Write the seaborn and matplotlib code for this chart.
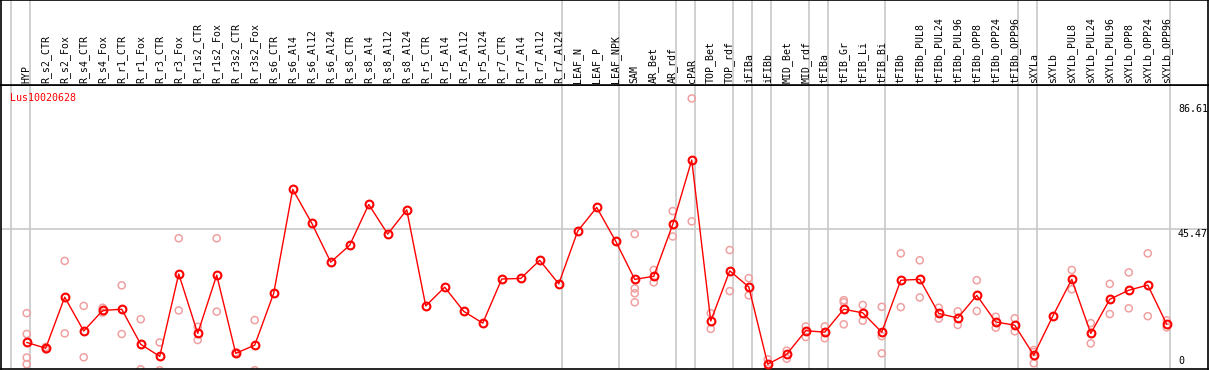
import numpy as np
import pandas as pd
import matplotlib
matplotlib.use("Agg")
import matplotlib.pyplot as plt
import seaborn as sns

# Column labels (samples)
samples = ["HYP", "R_s2_CTR", "R_s2_Fox", "R_s4_CTR", "R_s4_Fox", "R_r1_CTR", "R_r1_Fox",
           "R_r3_CTR", "R_r3_Fox", "R_r1s2_CTR", "R_r1s2_Fox", "R_r3s2_CTR", "R_r3s2_Fox",
           "R_s6_CTR", "R_s6_Al4", "R_s6_Al12", "R_s6_Al24", "R_s8_CTR", "R_s8_Al4", "R_s8_Al12",
           "R_s8_Al24", "R_r5_CTR", "R_r5_Al4", "R_r5_Al12", "R_r5_Al24", "R_r7_CTR", "R_r7_Al4",
           "R_r7_Al12", "R_r7_Al24", "LEAF_N", "LEAF_P", "LEAF_NPK", "SAM", "AR_Bet", "AR_rdf",
           "cPAR", "TOP_Bet", "TOP_rdf", "iFIBa", "iFIBb", "MID_Bet", "MID_rdf", "tFIBa",
           "tFIB_Gr", "tFIB_Li", "tFIB_Bi", "tFIBb", "tFIBb_PUL8", "tFIBb_PUL24", "tFIBb_PUL96",
           "tFIBb_OPP8", "tFIBb_OPP24", "tFIBb_OPP96", "sXYLa", "sXYLb", "sXYLb_PUL8",
           "sXYLb_PUL24", "sXYLb_PUL96", "sXYLb_OPP8", "sXYLb_OPP24", "sXYLb_OPP96"]

# mean expression per sample
means = [7.8, 5.9, 22.8, 11.6, 18.4, 18.8, 7.2, 3.2, 30.5, 10.8, 30.1, 4.2, 6.9,
         24.1, 58.5, 47.3, 34.4, 40.0, 53.5, 43.7, 51.7, 19.9, 26.1, 18.1, 14.2,
         28.8, 29.0, 35.0, 27.2, 44.7, 52.5, 41.3, 28.7, 29.7, 46.9, 68.2, 14.9,
         31.5, 26.2, 0.6, 3.9, 11.7, 11.2, 18.8, 17.6, 11.2, 28.4, 28.7, 17.4,
         15.9, 23.4, 14.6, 13.5, 3.6, 16.5, 28.7, 10.8, 22.1, 25.1, 26.8, 13.8]

# replicate values per sample (empty = none shown)
replicates = [[17.5, 10.6, 2.8, 0.6], [5.5, 6.3], [34.8, 10.8], [19.9, 2.9], [19.3, 17.7],
              [26.7, 10.6], [15.5, -1.1], [7.8, -1.4], [42.3, 18.4], [13.0, 8.6],
              [42.3, 18.0], [4.0, 4.5], [15.2, -1.4],
              [], [], [], [], [], [], [], [], [], [], [], [], [], [], [], [], [], [], [],
              [43.7, 25.7, 24.1, 21.1], [31.8, 27.7], [51.3, 42.9], [88.6, 47.9],
              [17.5, 12.3], [38.4, 24.8], [29.1, 23.4], [2.2, -1.0], [5.1, 2.4],
              [13.1, 9.6], [13.1, 9.2], [21.8, 21.1, 13.8], [20.2, 15.0],
              [19.6, 9.9, 4.2], [37.3, 19.5], [35.0, 22.7], [19.3, 15.7], [18.1, 13.6],
              [28.4, 18.2], [16.3, 12.7], [15.8, 11.5], [5.3, 0.9, 4.6], [],
              [31.8, 25.4], [14.2, 7.5], [27.2, 17.2], [31.0, 19.1], [37.3, 16.5],
              [15.1, 12.8]]

# last sample index of each group (separator drawn after it)
group_ends = [-1, 0, 28, 31, 34, 35, 37, 38, 39, 41, 42, 45, 52, 53, 60]

gene = "Lus10020628"
ytick_vals = [86.61, 45.47, 0]

mean_df = pd.DataFrame({"idx": np.arange(len(samples)), "value": means})
rep_df = pd.DataFrame([(i, v) for i, reps in enumerate(replicates) for v in reps],
                      columns=["idx", "value"])

sns.set_style("white")
plt.rcParams["font.family"] = ["DejaVu Sans Mono", "DejaVu Sans"]

W, H = 1209, 370
fig = plt.figure(figsize=(W / 100, H / 100), dpi=100)
ax = fig.add_axes([1 / W, 1 / H, 1207 / W, 284 / H])
hax = fig.add_axes([1 / W, 285 / H, 1207 / W, 85 / H], sharex=ax)

xlim = (-1.353, 62.17)
ylim = (-0.99, 93.05)

# group separators and gridline
for g in group_ends:
    for a in (ax, hax):
        a.axvline(g + 0.19, color="#c8c8c8", lw=1.2, zorder=0)
ax.axhline(45.47, color="#c8c8c8", lw=1.2, zorder=0)

sns.scatterplot(data=rep_df, x="idx", y="value", ax=ax, marker="o", s=26,
                facecolor="none", edgecolor="#f0a0a0", linewidth=1.1, zorder=2)
sns.lineplot(data=mean_df, x="idx", y="value", ax=ax, color="red", lw=1,
             marker="o", markersize=5.6, markerfacecolor="none", markeredgecolor="red",
             markeredgewidth=1.5, estimator=None, zorder=3)

ax.set_xlim(*xlim)
ax.set_ylim(*ylim)
ax.set_xlabel("")
ax.set_ylabel("")
ax.set_xticks([])
ax.set_yticks([])
for s in ax.spines.values():
    s.set_color("black")
    s.set_linewidth(1.2)

# right-side value labels
for v in ytick_vals:
    ax.text(1177 / 1207, v, f"{v:g}", transform=ax.get_yaxis_transform(),
            ha="left", va="top" if v > 0 else "bottom", fontsize=7.2, color="black")

ax.text(9 / 1207, 1 - 12.7 / 284, gene, transform=ax.transAxes, color="red",
        fontsize=7.2, ha="left", va="center")

# header with rotated sample names
hax.set_ylim(0, 1)
hax.set_xticks([])
hax.set_yticks([])
for s in hax.spines.values():
    s.set_color("black")
    s.set_linewidth(1.2)
for i, name in enumerate(samples):
    hax.text(i, 2 / 85, name, rotation=90, ha="center", va="bottom",
             fontsize=7.1, color="black")

fig.savefig("out.png", dpi=100)
